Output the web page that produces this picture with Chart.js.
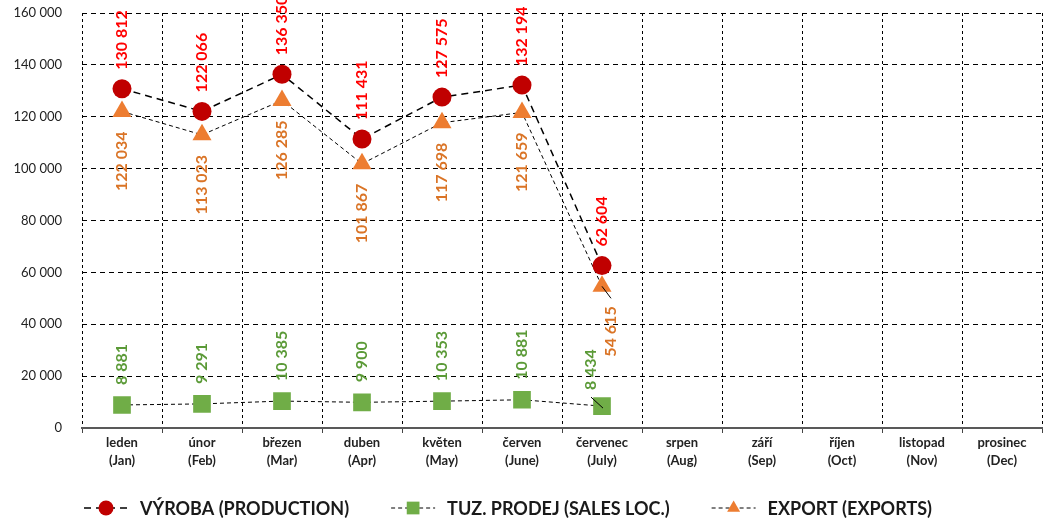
<!DOCTYPE html>
<html>
<head>
<meta charset="utf-8">
<script src="https://cdn.jsdelivr.net/npm/chart.js@4/dist/chart.umd.min.js"></script>
<style>
  html, body { margin: 0; padding: 0; background: #fff; }
  #wrap { width: 1043px; height: 522px; }
</style>
</head>
<body>
<div id="wrap"><canvas id="chart"></canvas></div>
<script>
const monthsCz = ["leden", "únor", "březen", "duben", "květen", "červen", "červenec", "srpen", "září", "říjen", "listopad", "prosinec"];
const monthsEn = ["(Jan)", "(Feb)", "(Mar)", "(Apr)", "(May)", "(June)", "(July)", "(Aug)", "(Sep)", "(Oct)", "(Nov)", "(Dec)"];

const production = [130812, 122066, 136350, 111431, 127575, 132194, 62604, null, null, null, null, null];
const salesLocal = [8881, 9291, 10385, 9900, 10353, 10881, 8434, null, null, null, null, null];
const exports = [122034, 113023, 126285, 101867, 117698, 121659, 54615, null, null, null, null, null];

const seriesNames = ["VÝROBA (PRODUCTION)", "TUZ. PRODEJ (SALES LOC.)", "EXPORT (EXPORTS)"];

const FONT = "Lato, 'Open Sans', sans-serif";

// cislo s mezerou jako oddelovac tisicu
function fmt(v) {
    return String(Math.round(v)).replace(/\B(?=(\d{3})+(?!\d))/g, " ");
}

// popisky hodnot otocene o 90 stupnu
const valueLabels = {
    id: "valueLabels",
    afterDatasetsDraw(chart) {
        const ctx = chart.ctx;
        chart.data.datasets.forEach((ds, di) => {
            const cfg = ds.labelCfg;
            const meta = chart.getDatasetMeta(di);
            meta.data.forEach((pt, i) => {
                const v = ds.data[i];
                if (v === null || v === undefined) return;
                const n = (cfg.nudge && cfg.nudge[i]) || {};
                const x = pt.x + (n.dx || 0);
                const y = pt.y;
                const off = cfg.offset + (n.dy || 0);
                ctx.save();
                if (n.leader) {
                    ctx.strokeStyle = "#000";
                    ctx.lineWidth = 1;
                    ctx.beginPath();
                    ctx.moveTo(pt.x + n.leader[0], pt.y + n.leader[1]);
                    ctx.lineTo(pt.x + n.leader[2], pt.y + n.leader[3]);
                    ctx.stroke();
                }
                ctx.translate(x, y);
                ctx.rotate(-Math.PI / 2);
                ctx.font = "bold 16px " + FONT;
                ctx.fillStyle = cfg.color;
                ctx.textBaseline = "middle";
                if (cfg.pos === "above") {
                    ctx.textAlign = "left";
                    ctx.fillText(fmt(v), off, 0);
                } else {
                    ctx.textAlign = "right";
                    ctx.fillText(fmt(v), -off, 0);
                }
                ctx.restore();
            });
        });
    }
};

// legenda dole: carkovana cara + znacka + text
const bottomLegend = {
    id: "bottomLegend",
    afterDraw(chart) {
        const ctx = chart.ctx;
        const y = 508;
        const lineW = 44, gap = 12, spacing = 42;
        ctx.save();
        ctx.font = "bold 18px " + FONT;
        const widths = chart.data.datasets.map(ds => ctx.measureText(ds.label).width);
        const total = widths.reduce((a, w) => a + lineW + gap + w, 0) + spacing * (widths.length - 1);
        let x = 508 - total / 2;
        chart.data.datasets.forEach((ds, i) => {
            ctx.save();
            ctx.strokeStyle = "#000";
            ctx.lineWidth = ds.borderWidth;
            ctx.setLineDash(ds.borderDash);
            ctx.beginPath();
            ctx.moveTo(x, y);
            ctx.lineTo(x + lineW, y);
            ctx.stroke();
            ctx.restore();
            ctx.fillStyle = ds.pointBackgroundColor;
            Chart.helpers.drawPoint(ctx, {
                pointStyle: ds.pointStyle,
                radius: ds.legendRadius,
                rotation: 0,
                borderWidth: 0
            }, x + lineW / 2, y);
            ctx.fillStyle = "#1a1a1a";
            ctx.textAlign = "left";
            ctx.textBaseline = "middle";
            ctx.fillText(ds.label, x + lineW + gap, y + 1);
            x += lineW + gap + widths[i] + spacing;
        });
        ctx.restore();
    }
};

new Chart(document.getElementById("chart"), {
    type: "line",
    data: {
        labels: monthsCz.map((m, i) => [m, monthsEn[i]]),
        datasets: [
            {
                label: seriesNames[0],
                data: production,
                borderColor: "#000",
                borderWidth: 1.5,
                borderDash: [7, 5],
                pointStyle: "circle",
                pointRadius: 9.5,
                pointBackgroundColor: "#C00000",
                pointBorderWidth: 0,
                legendRadius: 7.5,
                labelCfg: { pos: "above", offset: 19, color: "#FF0000" }
            },
            {
                label: seriesNames[1],
                data: salesLocal,
                borderColor: "#000",
                borderWidth: 1,
                borderDash: [4, 3],
                pointStyle: "rect",
                pointRadius: 12.5,
                pointBackgroundColor: "#70AD47",
                pointBorderWidth: 0,
                legendRadius: 9,
                labelCfg: { pos: "above", offset: 20, color: "#5B9A37",
                    nudge: { 6: { dx: -11, dy: -4, leader: [-11, -9, 1, 2] } } }
            },
            {
                label: seriesNames[2],
                data: exports,
                borderColor: "#000",
                borderWidth: 1,
                borderDash: [4, 3],
                pointStyle: "triangle",
                pointRadius: 11,
                pointBackgroundColor: "#ED7D31",
                pointBorderWidth: 0,
                legendRadius: 7.5,
                labelCfg: { pos: "below", offset: 20, color: "#DA7426",
                    nudge: { 6: { dx: 9, leader: [0, 0, 9, 12] } } }
            }
        ]
    },
    options: {
        responsive: true,
        maintainAspectRatio: false,
        animation: false,
        events: [],
        layout: { autoPadding: false, padding: { top: 13, right: 1, bottom: 52, left: 0 } },
        plugins: {
            legend: { display: false },
            tooltip: { enabled: false }
        },
        scales: {
            x: {
                offset: true,
                afterFit(scale) {
                    scale.height = 42;
                    scale.paddingLeft = 0;
                    scale.paddingRight = 0;
                },
                grid: {
                    offset: true,
                    color: "#000",
                    lineWidth: 1,
                    drawTicks: true,
                    tickLength: 5,
                    tickBorderDash: [],
                    tickColor: "#444"
                },
                border: { display: true, color: "#595959", width: 2, dash: [3, 3] },
                ticks: {
                    padding: 0,
                    maxRotation: 0,
                    autoSkip: false,
                    color: "#222",
                    font: { family: FONT, size: 13, weight: "bold", lineHeight: 1.45 }
                }
            },
            y: {
                min: 0,
                max: 160000,
                afterFit(scale) {
                    scale.width = 82;
                    scale.paddingTop = 0;
                    scale.paddingBottom = 0;
                },
                grid: {
                    color: (c) => c.tick && c.tick.value === 0 ? "rgba(0,0,0,0)" : "#000",
                    lineWidth: 1,
                    drawTicks: false
                },
                border: { display: false, dash: [5, 4] },
                ticks: {
                    stepSize: 20000,
                    padding: 20,
                    color: "#222",
                    font: { family: FONT, size: 13 },
                    callback: (v) => fmt(v)
                }
            }
        }
    },
    plugins: [valueLabels, bottomLegend]
});
</script>
</body>
</html>
